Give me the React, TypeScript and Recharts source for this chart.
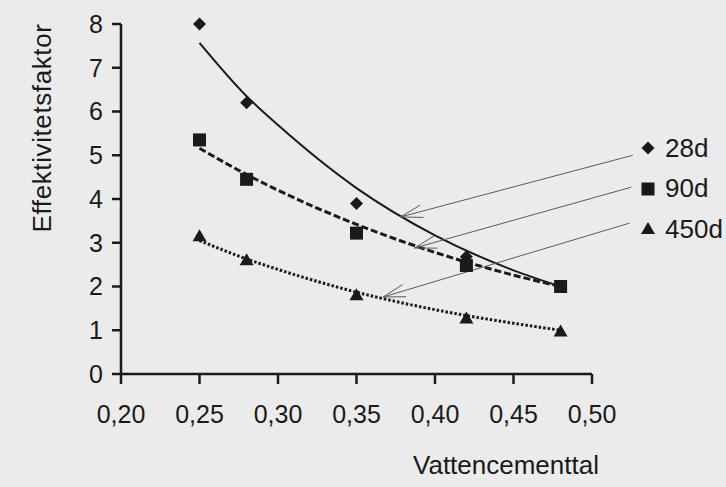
import { ComposedChart, XAxis, YAxis, Line, Scatter, ReferenceLine, Legend } from "recharts";

// measured points (Vattencementtal -> Effektivitetsfaktor)
const WC_RATIO = [0.25, 0.28, 0.35, 0.42, 0.48];
const EFF_28D = [8.0, 6.2, 3.9, 2.68, 2.0];
const EFF_90D = [5.35, 4.45, 3.22, 2.48, 2.0];
const EFF_450D = [3.15, 2.6, 1.8, 1.27, 0.97];

// trend curves
const TREND_X = [0.25, 0.28, 0.3, 0.35, 0.4, 0.45, 0.48];
const TREND_28D = [7.57, 6.35, 5.69, 4.25, 3.17, 2.37, 2.0];
const TREND_90D = [5.16, 4.56, 4.2, 3.42, 2.78, 2.26, 2.0];
const TREND_450D = [3.05, 2.63, 2.39, 1.87, 1.47, 1.16, 1.0];

const X_TICKS = [0.2, 0.25, 0.3, 0.35, 0.4, 0.45, 0.5];
const Y_TICKS = [0, 1, 2, 3, 4, 5, 6, 7, 8];
const SERIES_NAMES = ["28d", "90d", "450d"];

// annotation arrows: from the label side to the curve (axis units)
const ARROW_FROM = [
  { x: 0.526, y: 5.0 },
  { x: 0.525, y: 4.27 },
  { x: 0.524, y: 3.45 },
];
const ARROW_TO = [
  { x: 0.378, y: 3.59 },
  { x: 0.387, y: 2.88 },
  { x: 0.367, y: 1.76 },
];

const FONT = '"Liberation Sans", Arial, sans-serif';
const INK = "#1a1a1a";

const toRows = (xs: number[], ys: number[]) => xs.map((x, i) => ({ x, y: ys[i] }));

const points28 = toRows(WC_RATIO, EFF_28D);
const points90 = toRows(WC_RATIO, EFF_90D);
const points450 = toRows(WC_RATIO, EFF_450D);
const trend28 = toRows(TREND_X, TREND_28D);
const trend90 = toRows(TREND_X, TREND_90D);
const trend450 = toRows(TREND_X, TREND_450D);

const fmt = (v: number) => v.toFixed(2).replace(".", ",");

function Diamond({ cx, cy }: any) {
  const r = 6.5;
  return <polygon points={`${cx},${cy - r} ${cx + r},${cy} ${cx},${cy + r} ${cx - r},${cy}`} fill={INK} />;
}

function Square({ cx, cy }: any) {
  const r = 6.5;
  return <rect x={cx - r} y={cy - r} width={r * 2} height={r * 2} fill={INK} />;
}

function Triangle({ cx, cy }: any) {
  return <polygon points={`${cx},${cy - 7} ${cx + 7},${cy + 5} ${cx - 7},${cy + 5}`} fill={INK} />;
}

const MARKERS = [Diamond, Square, Triangle];

function Arrow(p: any) {
  const { x1, y1, x2, y2 } = p;
  const a = Math.atan2(y1 - y2, x1 - x2);
  const len = 23;
  const spread = 0.28;
  const b1 = { x: x2 + len * Math.cos(a - spread), y: y2 + len * Math.sin(a - spread) };
  const b2 = { x: x2 + len * Math.cos(a + spread), y: y2 + len * Math.sin(a + spread) };
  return (
    <g stroke="#5a5a5a" strokeWidth={1} fill="none">
      <line x1={x1} y1={y1} x2={x2} y2={y2} />
      <polyline points={`${b1.x},${b1.y} ${x2},${y2} ${b2.x},${b2.y}`} />
    </g>
  );
}

function LegendBox() {
  return (
    <div style={{ fontFamily: FONT, fontSize: 26, color: INK }}>
      {SERIES_NAMES.map((name, i) => {
        const M = MARKERS[i];
        return (
          <div key={name} style={{ display: "flex", alignItems: "center", height: 40.5 }}>
            <svg width={16} height={16} style={{ marginRight: 9 }}>
              <M cx={8} cy={8} />
            </svg>
            <span>{name}</span>
          </div>
        );
      })}
    </div>
  );
}

export default function App() {
  const tickStyle = { fontSize: 25, fill: INK, fontFamily: FONT };
  const axisStroke = { stroke: INK, strokeWidth: 2.5 };

  return (
    <div
      style={{
        position: "absolute",
        left: 0,
        top: 0,
        width: 726,
        height: 487,
        background: "#ebebeb",
        fontFamily: FONT,
      }}
    >
      <ComposedChart width={726} height={487} margin={{ top: 24, right: 134, bottom: 0, left: 0 }}>
        <XAxis
          type="number"
          dataKey="x"
          domain={[0.2, 0.5]}
          ticks={X_TICKS}
          tickFormatter={fmt}
          tick={tickStyle}
          tickSize={10}
          tickMargin={21}
          height={113}
          axisLine={axisStroke}
          tickLine={axisStroke}
          label={{
            content: () => (
              <text x={506} y={474} textAnchor="middle" fontSize={26} fill={INK} fontFamily={FONT}>
                Vattencementtal
              </text>
            ),
          }}
        />
        <YAxis
          type="number"
          dataKey="y"
          domain={[0, 8]}
          ticks={Y_TICKS}
          tick={tickStyle}
          tickSize={9}
          tickMargin={9}
          width={121}
          axisLine={axisStroke}
          tickLine={axisStroke}
          label={{
            content: () => (
              <text
                x={42}
                y={128}
                transform="rotate(-90, 42, 128)"
                textAnchor="middle"
                dominantBaseline="central"
                fontSize={26}
                letterSpacing={0.6}
                fill={INK}
                fontFamily={FONT}
              >
                Effektivitetsfaktor
              </text>
            ),
          }}
        />

        <Line data={trend28} dataKey="y" type="monotone" stroke={INK} strokeWidth={2} dot={false} legendType="none" isAnimationActive={false} />
        <Line data={trend90} dataKey="y" type="monotone" stroke={INK} strokeWidth={3} strokeDasharray="7 3" dot={false} legendType="none" isAnimationActive={false} />
        <Line data={trend450} dataKey="y" type="monotone" stroke={INK} strokeWidth={3} strokeDasharray="2.5 2" dot={false} legendType="none" isAnimationActive={false} />

        <Scatter name="28d" data={points28} dataKey="y" shape={Diamond} isAnimationActive={false} />
        <Scatter name="90d" data={points90} dataKey="y" shape={Square} isAnimationActive={false} />
        <Scatter name="450d" data={points450} dataKey="y" shape={Triangle} isAnimationActive={false} />

        {ARROW_FROM.map((from, i) => (
          <ReferenceLine key={i} segment={[from, ARROW_TO[i]]} ifOverflow="visible" shape={Arrow} />
        ))}

        <Legend
          layout="vertical"
          align="center"
          verticalAlign="middle"
          wrapperStyle={{ left: 640, top: 128, width: 86 }}
          content={() => <LegendBox />}
        />
      </ComposedChart>
    </div>
  );
}
